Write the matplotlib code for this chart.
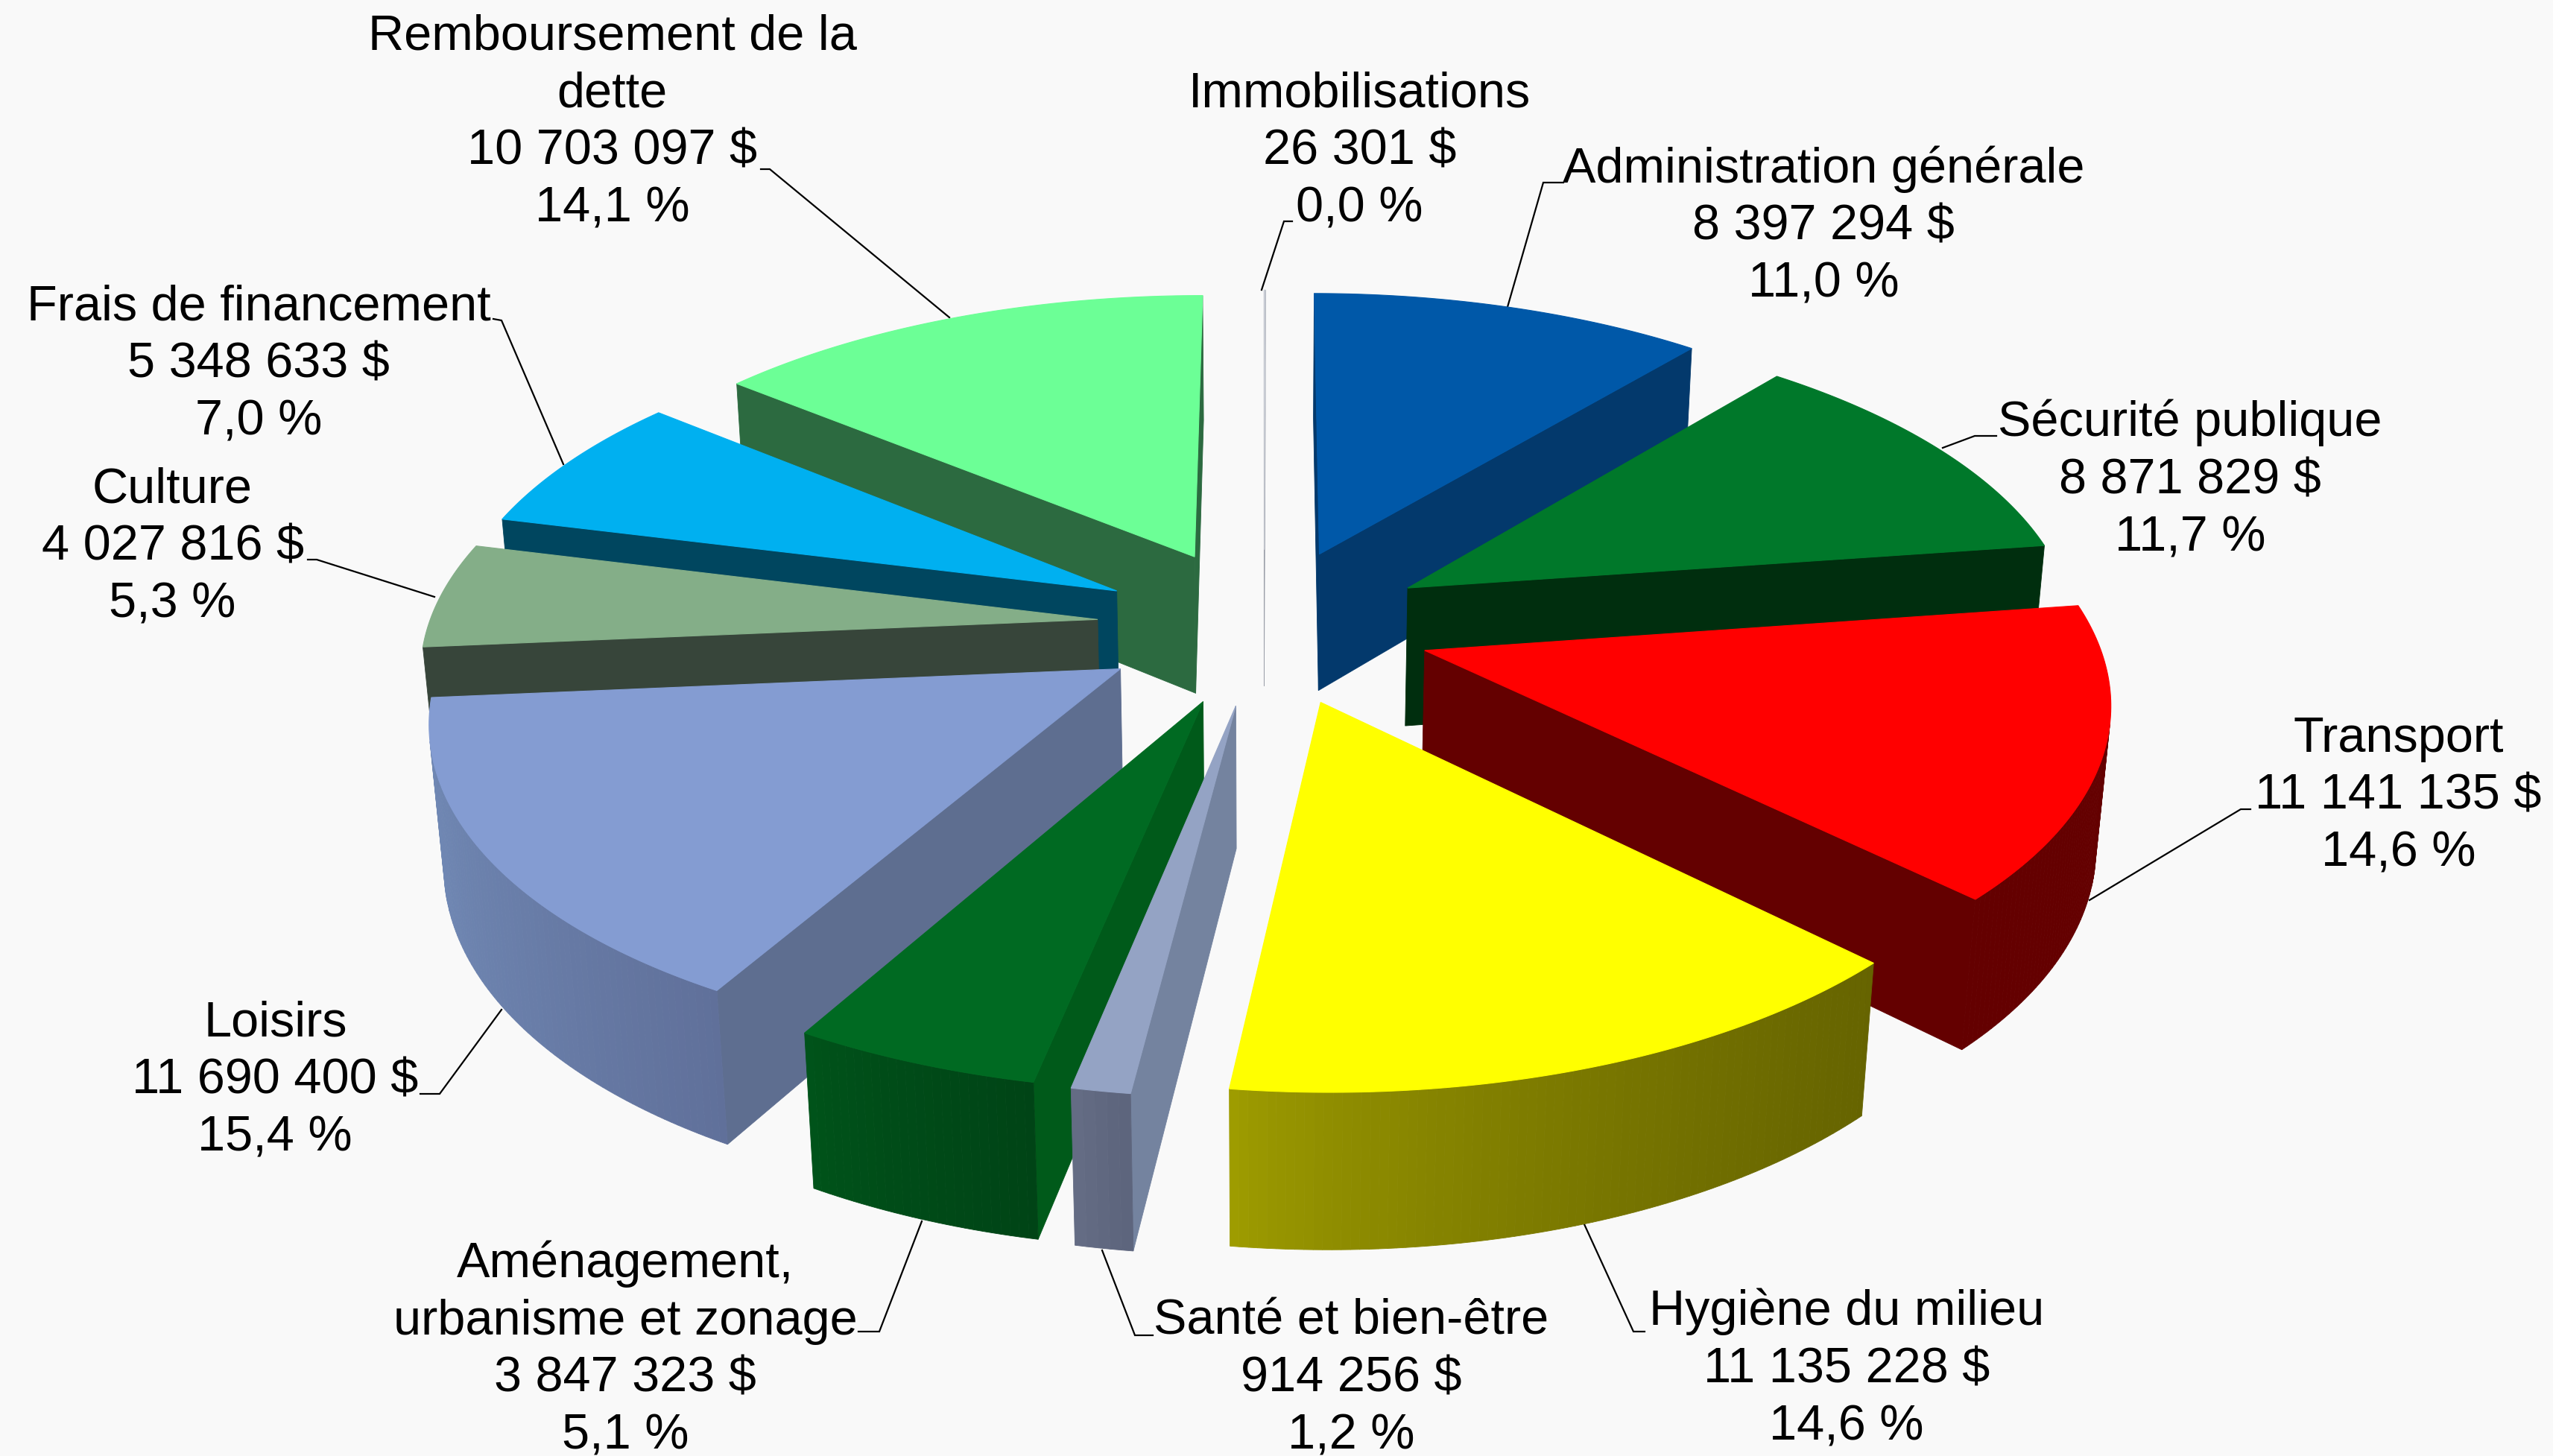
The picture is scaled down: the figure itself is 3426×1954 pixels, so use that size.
from __future__ import annotations

import numpy as np
import matplotlib
matplotlib.use("Agg")
import matplotlib.pyplot as plt
from matplotlib.colors import to_rgb
from matplotlib.patches import Polygon

plt.rcParams["font.family"] = ["Liberation Sans", "DejaVu Sans"]

names = [
	"Immobilisations", "Administration générale", "Sécurité publique", "Transport",
	"Hygiène du milieu", "Santé et bien-être", "Aménagement,\nurbanisme et zonage",
	"Loisirs", "Culture", "Frais de financement", "Remboursement de la\ndette",
]
values = [26301, 8397294, 8871829, 11141135, 11135228, 914256, 3847323, 11690400, 4027816, 5348633, 10703097]
percents = ["0,0 %", "11,0 %", "11,7 %", "14,6 %", "14,6 %", "1,2 %", "5,1 %", "15,4 %", "5,3 %", "7,0 %", "14,1 %"]

top_colors = ["#C8CCD4", "#0058A8", "#00782A", "#FF0000", "#FFFF00", "#94A3C4", "#006A22", "#849CD2", "#84AE88", "#00B0F0", "#6CFF96"]
# couleur des faces radiales (début, fin) et du bord extérieur (gauche, droite)
start_walls = ["#9A9EA8", "#03396C", "#002E0E", "#640000", "#6A6800", "#74839F", "#005A1A", "#5E6E90", "#37453A", "#00465F", "#2C6A40"]
end_walls = ["#9A9EA8", "#03396C", "#002E0E", "#640000", "#6A6800", "#74839F", "#005A1A", "#5E6E90", "#37453A", "#00465F", "#2C6A40"]
rim_left = ["#9A9EA8", "#03396C", "#002E0E", "#640000", "#A09E00", "#666E86", "#00541A", "#7088B4", "#37453A", "#00465F", "#2C6A40"]
rim_right = ["#9A9EA8", "#03396C", "#002E0E", "#640000", "#666400", "#5C647C", "#004416", "#60709A", "#37453A", "#00465F", "#2C6A40"]

# position des étiquettes, en pixels de l'image réduite (1568 px de large)
label_x = [835, 1120, 1345, 1473, 1134, 830, 384, 169, 106, 159, 376]
label_y = [93, 139, 295, 489, 841, 847, 829, 664, 336, 224, 75.5]
leaders = [
	[(1734, 297), (1723, 297), (1693, 389)],
	[(2098, 245), (2071, 245), (2023, 412)],
	[(2679, 585), (2650, 585), (2607, 601)],
	[(3020, 1086), (3007, 1086), (2804, 1208)],
	[(2207, 1787), (2192, 1787), (2126, 1643)],
	[(1547, 1792), (1523, 1792), (1479, 1678)],
	[(1152, 1787), (1180, 1787), (1237, 1639)],
	[(564, 1468), (590, 1468), (673, 1355)],
	[(413, 751), (425, 751), (583, 801)],
	[(662, 428), (673, 430), (756, 623)],
	[(1021, 227), (1033, 227), (1274, 426)],
]

WIDTH, HEIGHT = 3426, 1954
SHRINK = WIDTH / 1568
CX, CY = 776.3 * SHRINK, 384.3 * SHRINK
SCALE = 411 * SHRINK
ELEV = np.radians(28)
DIST = 6.5
EXPLODE = 0.25
THICK = 0.24


def project(x, y, z):
	"""Projection perspective d'un point du camembert vers les pixels."""
	depth = y * np.cos(ELEV) - z * np.sin(ELEV)
	k = 1 / (1 + depth / DIST)
	up = y * np.sin(ELEV) + z * np.cos(ELEV)
	return CX + SCALE * x * k, CY - SCALE * up * k


def signed_area(pts):
	xs = np.array([p[0] for p in pts])
	ys = np.array([p[1] for p in pts])
	return 0.5 * np.sum(xs * np.roll(ys, -1) - np.roll(xs, -1) * ys)


def draw_quad(ax, pts, color, zorder):
	ax.add_patch(Polygon(pts, closed=True, facecolor=color, edgecolor=color, linewidth=0.6, zorder=zorder))


def draw_slice(ax, i, a0, a1, zorder):
	mid = (a0 + a1) / 2
	ox, oy = EXPLODE * np.sin(mid), EXPLODE * np.cos(mid)
	n = max(2, int(np.degrees(a1 - a0) * 1.5))
	angles = np.linspace(a0, a1, n)
	rim_xy = [(ox + np.sin(t), oy + np.cos(t)) for t in angles]

	apex_t = project(ox, oy, 0)
	apex_b = project(ox, oy, -THICK)
	rim_t = [project(x, y, 0) for x, y in rim_xy]
	rim_b = [project(x, y, -THICK) for x, y in rim_xy]

	# faces radiales, visibles seulement si elles regardent la caméra
	quad_start = [apex_t, rim_t[0], rim_b[0], apex_b]
	quad_end = [apex_b, rim_b[-1], rim_t[-1], apex_t]
	if signed_area(quad_start) < 0:
		draw_quad(ax, quad_start, start_walls[i], zorder)
	if signed_area(quad_end) < 0:
		draw_quad(ax, quad_end, end_walls[i], zorder)

	# bord extérieur en bandes pour le dégradé
	left, right = np.array(to_rgb(rim_left[i])), np.array(to_rgb(rim_right[i]))
	xs = [p[0] for p in rim_t]
	span = max(max(xs) - min(xs), 1)
	for j in range(n - 1):
		quad = [rim_t[j], rim_t[j + 1], rim_b[j + 1], rim_b[j]]
		if signed_area(quad) > 0:
			continue
		f = ((rim_t[j][0] + rim_t[j + 1][0]) / 2 - min(xs)) / span
		f = f ** 0.7
		draw_quad(ax, quad, tuple(left + (right - left) * f), zorder + 0.1)

	top = [apex_t] + rim_t
	ax.add_patch(Polygon(top, closed=True, facecolor=top_colors[i], edgecolor=top_colors[i], linewidth=0.8, zorder=zorder + 0.2))


def label_text(i):
	amount = f"{values[i]:,}".replace(",", " ")
	return f"{names[i]}\n{amount} $\n{percents[i]}"


def main():
	fig = plt.figure(figsize=(WIDTH / 100, HEIGHT / 100), dpi=100, facecolor="#F9F9F9")
	ax = fig.add_axes([0, 0, 1, 1])
	ax.set_xlim(0, WIDTH)
	ax.set_ylim(HEIGHT, 0)
	ax.axis("off")

	total = sum(values)
	edges = np.concatenate([[0], np.cumsum(values)]) / total * 2 * np.pi
	order = sorted(range(len(values)), key=lambda k: -np.cos((edges[k] + edges[k + 1]) / 2))
	for rank, i in enumerate(order):
		draw_slice(ax, i, edges[i], edges[i + 1], 2 + rank)

	for i in range(len(names)):
		xs, ys = zip(*leaders[i])
		ax.plot(xs, ys, color="black", linewidth=1.6, zorder=1, solid_joinstyle="miter")
		ax.text(label_x[i] * SHRINK, label_y[i] * SHRINK, label_text(i), ha="center", va="center",
			fontsize=48, color="black", linespacing=1.31, multialignment="center", zorder=31)

	fig.savefig("out.png", dpi=100, facecolor=fig.get_facecolor())


if __name__ == "__main__":
	main()
